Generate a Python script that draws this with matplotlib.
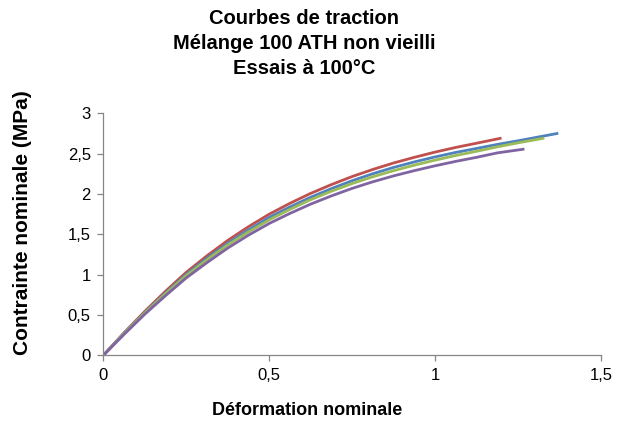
import matplotlib
matplotlib.use('Agg')
import matplotlib.pyplot as plt
from matplotlib.ticker import FuncFormatter

plt.rcParams['font.family'] = ['Liberation Sans', 'DejaVu Sans']

# essais de traction, lecture sur la figure
x_rouge = [0, 0.0625, 0.125, 0.1875, 0.25, 0.3125, 0.375, 0.4375, 0.5, 0.5625, 0.625, 0.6875,
           0.75, 0.8125, 0.875, 0.9375, 1.0, 1.0625, 1.125, 1.196]
y_rouge = [0, 0.28, 0.545, 0.795, 1.03, 1.235, 1.425, 1.595, 1.75, 1.885, 2.008, 2.117,
           2.217, 2.305, 2.385, 2.455, 2.52, 2.578, 2.63, 2.69]

x_bleu = [0, 0.0625, 0.125, 0.1875, 0.25, 0.3125, 0.375, 0.4375, 0.5, 0.5625, 0.625, 0.6875,
          0.75, 0.8125, 0.875, 0.9375, 1.0, 1.0625, 1.125, 1.1875, 1.25, 1.3125, 1.367]
y_bleu = [0, 0.275, 0.53, 0.775, 1.005, 1.205, 1.39, 1.555, 1.71, 1.84, 1.96, 2.067,
          2.165, 2.252, 2.33, 2.398, 2.46, 2.516, 2.565, 2.615, 2.66, 2.708, 2.75]

x_vert = [0, 0.0625, 0.125, 0.1875, 0.25, 0.3125, 0.375, 0.4375, 0.5, 0.5625, 0.625, 0.6875,
          0.75, 0.8125, 0.875, 0.9375, 1.0, 1.0625, 1.125, 1.1875, 1.25, 1.325]
y_vert = [0, 0.27, 0.525, 0.765, 0.99, 1.185, 1.37, 1.53, 1.68, 1.81, 1.93, 2.035,
          2.13, 2.214, 2.29, 2.358, 2.42, 2.478, 2.53, 2.585, 2.635, 2.69]

x_violet = [0, 0.0625, 0.125, 0.1875, 0.25, 0.3125, 0.375, 0.4375, 0.5, 0.5625, 0.625, 0.6875,
            0.75, 0.8125, 0.875, 0.9375, 1.0, 1.0625, 1.125, 1.1875, 1.265]
y_violet = [0, 0.26, 0.51, 0.74, 0.96, 1.15, 1.33, 1.49, 1.635, 1.76, 1.875, 1.977,
            2.07, 2.152, 2.225, 2.29, 2.35, 2.405, 2.455, 2.51, 2.555]

xticks = [0, 0.5, 1, 1.5]
yticks = [0, 0.5, 1, 1.5, 2, 2.5, 3]

fig = plt.figure(figsize=(6.34, 4.23), dpi=100)
ax = fig.add_axes([0.163, 0.160, 0.785, 0.572])

ax.plot(x_rouge, y_rouge, color='#C0504D', lw=2.0)
ax.plot(x_bleu, y_bleu, color='#4F81BD', lw=2.0)
ax.plot(x_vert, y_vert, color='#9BBB59', lw=2.0)
ax.plot(x_violet, y_violet, color='#8064A2', lw=2.0)

ax.set_xlim(0, 1.5)
ax.set_ylim(0, 3)
ax.set_xticks(xticks)
ax.set_yticks(yticks)
fmt = FuncFormatter(lambda v, p: ('%g' % v).replace('.', ','))
ax.xaxis.set_major_formatter(fmt)
ax.yaxis.set_major_formatter(fmt)

for s in ['top', 'right']:
    ax.spines[s].set_visible(False)
for s in ['left', 'bottom']:
    ax.spines[s].set_color('#868686')
    ax.spines[s].set_linewidth(0.9)
ax.tick_params(direction='out', length=4, width=0.9, color='#868686',
               labelsize=12, labelcolor='black', pad=5)

fig.text(0.48, 0.979, 'Courbes de traction\nMélange 100 ATH non vieilli\nEssais à 100°C',
         ha='center', va='top', fontsize=14.5, fontweight='bold', linespacing=1.4)
fig.text(0.485, 0.03, 'Déformation nominale', ha='center', va='center',
         fontsize=13, fontweight='bold')
fig.text(0.035, 0.473, 'Contrainte nominale (MPa)', ha='center', va='center',
         rotation=90, fontsize=15, fontweight='bold')

plt.savefig('out.png', dpi=100)
